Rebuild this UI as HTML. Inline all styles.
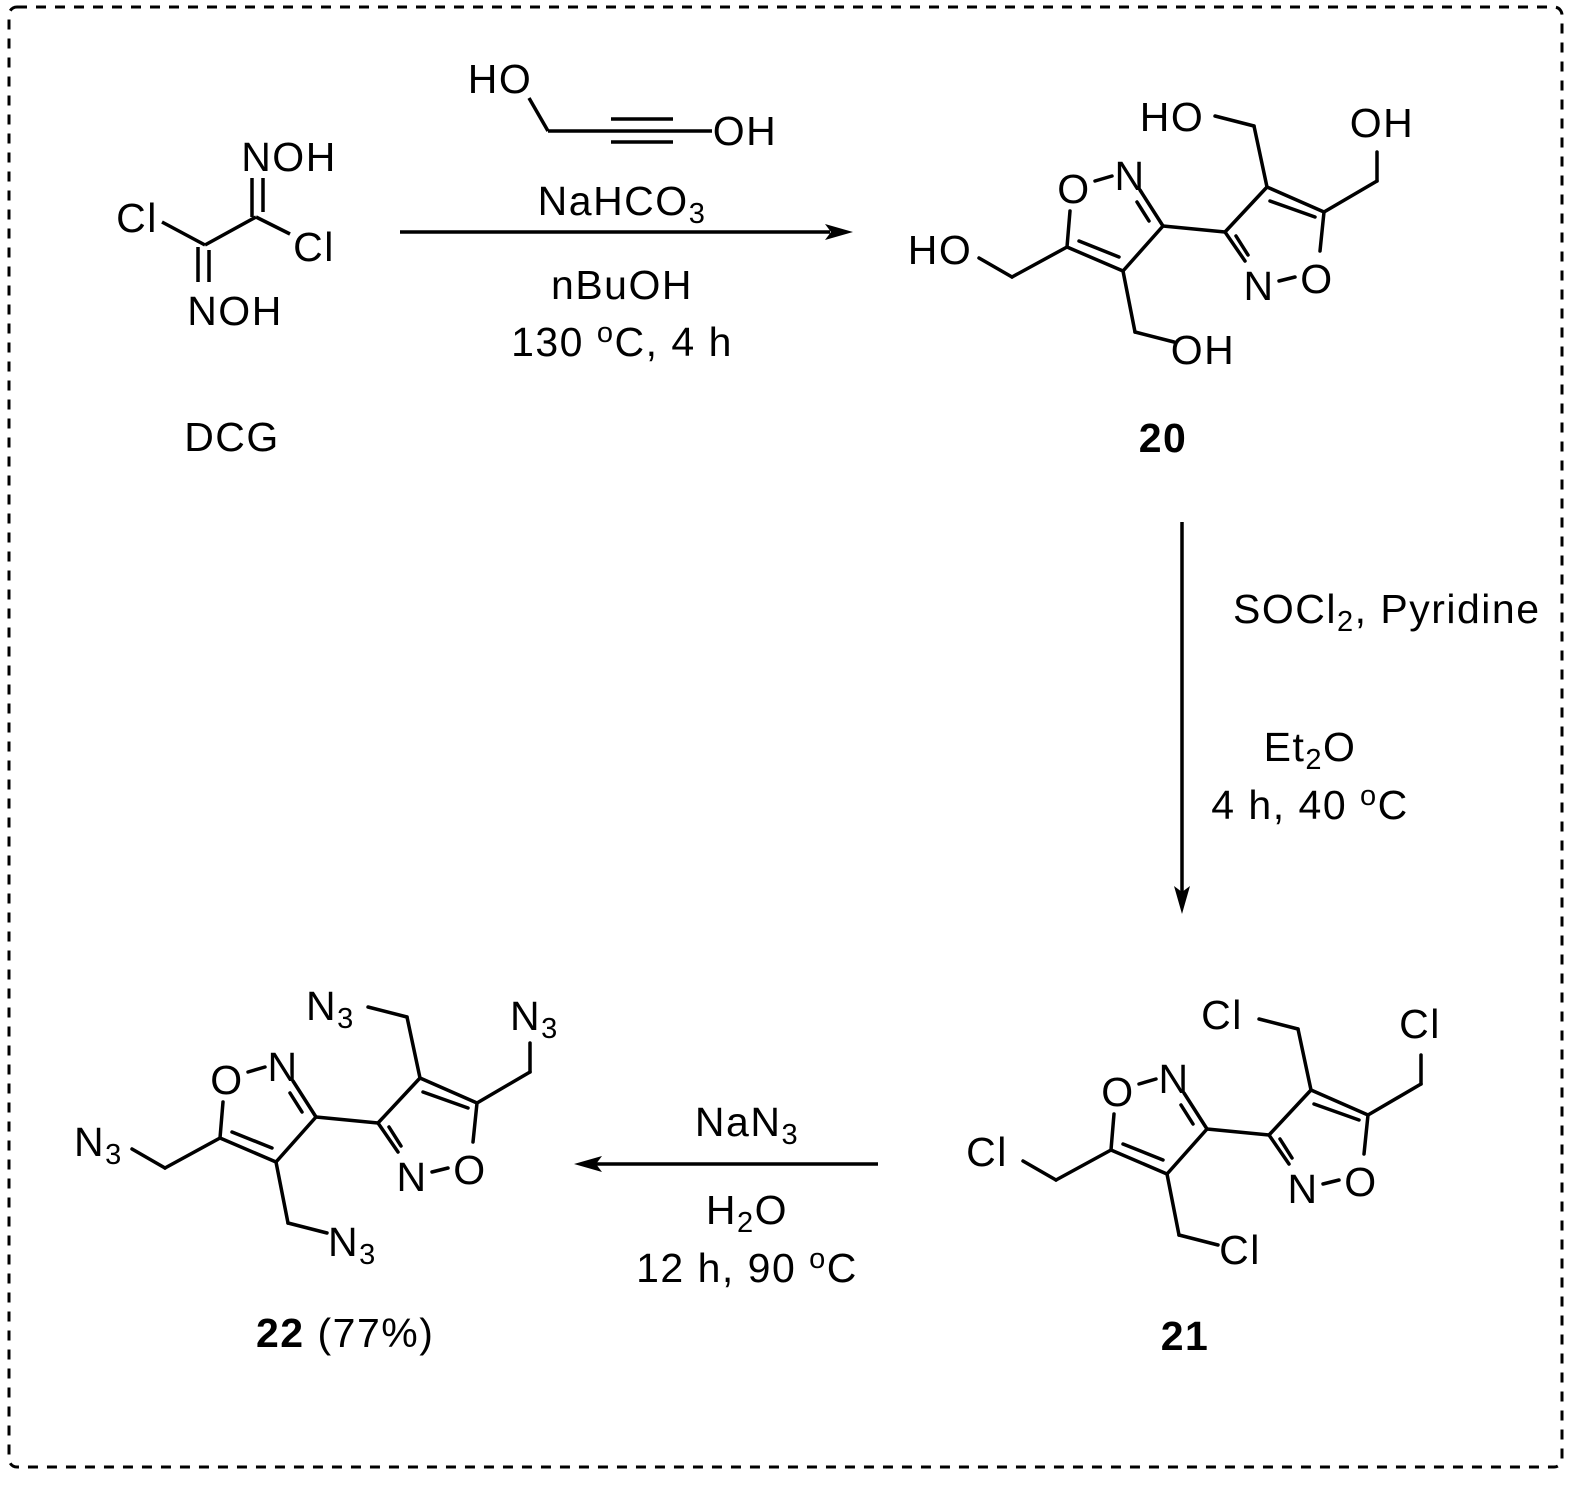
<!DOCTYPE html>
<html><head><meta charset="utf-8"><style>
html,body{margin:0;padding:0;background:#fff;}
svg{display:block;}
text{font-family:"Liberation Sans",Arial,sans-serif;fill:#000;letter-spacing:1.5px;}
</style></head><body>
<svg width="1580" height="1488" viewBox="0 0 1580 1488" xmlns="http://www.w3.org/2000/svg">
<defs>
<g id="sk" stroke="#000" stroke-width="3.5" fill="none" stroke-linecap="round">
  <line x1="248" y1="1072" x2="265" y2="1067"/>
  <line x1="223" y1="1102" x2="220" y2="1138"/>
  <line x1="220" y1="1138" x2="276" y2="1162"/>
  <line x1="232" y1="1132" x2="272" y2="1148"/>
  <line x1="276" y1="1162" x2="316" y2="1117"/>
  <line x1="293" y1="1081" x2="316" y2="1117"/>
  <line x1="290" y1="1093" x2="302" y2="1112"/>
  <line x1="316" y1="1117" x2="378" y2="1123"/>
  <line x1="378" y1="1123" x2="420" y2="1078"/>
  <line x1="420" y1="1078" x2="477" y2="1103"/>
  <line x1="423" y1="1092" x2="468" y2="1108"/>
  <line x1="477" y1="1103" x2="473" y2="1142"/>
  <line x1="432" y1="1172" x2="448" y2="1168"/>
  <line x1="378" y1="1123" x2="398" y2="1152"/>
  <line x1="389" y1="1127" x2="401" y2="1146"/>
  <line x1="420" y1="1078" x2="407" y2="1017"/>
  <line x1="407" y1="1017" x2="368" y2="1007"/>
  <line x1="477" y1="1103" x2="530" y2="1072"/>
  <line x1="530" y1="1072" x2="530" y2="1043"/>
  <line x1="220" y1="1138" x2="165" y2="1168"/>
  <line x1="165" y1="1168" x2="132" y2="1149"/>
  <line x1="276" y1="1162" x2="288" y2="1223"/>
  <line x1="288" y1="1223" x2="327" y2="1233"/>
</g>
<g id="ring" font-size="41" text-anchor="middle" dominant-baseline="central">
  <text x="227" y="1080">O</text>
  <text x="283" y="1067">N</text>
  <text x="412" y="1177">N</text>
  <text x="470" y="1170">O</text>
</g>
</defs>

<rect x="9" y="7" width="1553" height="1460" rx="8" fill="none" stroke="#000" stroke-width="3" stroke-dasharray="10 9"/>

<!-- DCG -->
<g stroke="#000" stroke-width="3.5" fill="none">
  <line x1="162" y1="222" x2="205" y2="245"/>
  <line x1="205" y1="245" x2="256" y2="217"/>
  <line x1="256" y1="217" x2="290" y2="234"/>
  <line x1="252" y1="178" x2="252" y2="217"/>
  <line x1="263" y1="178" x2="263" y2="212"/>
  <line x1="198" y1="247" x2="198" y2="282"/>
  <line x1="209" y1="250" x2="209" y2="282"/>
</g>
<g font-size="41" text-anchor="middle" dominant-baseline="central">
  <text x="137" y="218">Cl</text>
  <text x="314" y="247">Cl</text>
  <text x="289" y="157">NOH</text>
  <text x="235" y="311">NOH</text>
  <text x="232" y="437">DCG</text>
</g>

<!-- butynediol -->
<g stroke="#000" stroke-width="3.5" fill="none">
  <line x1="529" y1="98" x2="548" y2="131"/>
  <line x1="548" y1="131" x2="712" y2="131"/>
  <line x1="611" y1="119" x2="673" y2="119"/>
  <line x1="611" y1="142" x2="673" y2="142"/>
</g>
<g font-size="41" text-anchor="middle" dominant-baseline="central">
  <text x="500" y="79">HO</text>
  <text x="745" y="131">OH</text>
</g>

<!-- arrow 1 -->
<line x1="400" y1="232" x2="830" y2="232" stroke="#000" stroke-width="3.5"/>
<polygon points="853,232 825,224 831,232 825,240" fill="#000"/>
<g font-size="41" text-anchor="middle">
  <text x="622" y="215">NaHCO<tspan font-size="29" dy="8">3</tspan></text>
  <text x="622" y="299">nBuOH</text>
  <text x="622" y="356">130 <tspan font-size="29" dy="-14">o</tspan><tspan dy="14">C, 4 h</tspan></text>
</g>

<!-- compound 20 -->
<g transform="translate(847,-891)"><use href="#sk"/><use href="#ring"/></g>
<g font-size="41" text-anchor="middle" dominant-baseline="central">
  <text x="1172" y="117">HO</text>
  <text x="1382" y="123">OH</text>
  <text x="940" y="250">HO</text>
  <text x="1203" y="350">OH</text>
</g>
<text x="1163" y="452" font-size="41" font-weight="bold" text-anchor="middle">20</text>

<!-- arrow 2 -->
<line x1="1182" y1="522" x2="1182" y2="895" stroke="#000" stroke-width="3.5"/>
<polygon points="1182,914 1174,886 1182,892 1190,886" fill="#000"/>
<g font-size="41">
  <text x="1233" y="623">SOCl<tspan font-size="29" dy="8">2</tspan><tspan dy="-8">, Pyridine</tspan></text>
  <text x="1310" y="761" text-anchor="middle">Et<tspan font-size="29" dy="8">2</tspan><tspan dy="-8">O</tspan></text>
  <text x="1310" y="819" text-anchor="middle">4 h, 40 <tspan font-size="29" dy="-14">o</tspan><tspan dy="14">C</tspan></text>
</g>

<!-- compound 21 -->
<g transform="translate(891,12)"><use href="#sk"/><use href="#ring"/></g>
<g font-size="41" text-anchor="middle" dominant-baseline="central">
  <text x="1222" y="1015">Cl</text>
  <text x="1420" y="1024">Cl</text>
  <text x="987" y="1152">Cl</text>
  <text x="1240" y="1250">Cl</text>
</g>
<text x="1185" y="1350" font-size="41" font-weight="bold" text-anchor="middle">21</text>

<!-- arrow 3 -->
<line x1="878" y1="1164" x2="595" y2="1164" stroke="#000" stroke-width="3.5"/>
<polygon points="574,1164 602,1156 596,1164 602,1172" fill="#000"/>
<g font-size="41" text-anchor="middle">
  <text x="747" y="1136">NaN<tspan font-size="29" dy="8">3</tspan></text>
  <text x="747" y="1224">H<tspan font-size="29" dy="8">2</tspan><tspan dy="-8">O</tspan></text>
  <text x="747" y="1282">12 h, 90 <tspan font-size="29" dy="-14">o</tspan><tspan dy="14">C</tspan></text>
</g>

<!-- compound 22 -->
<use href="#sk"/><use href="#ring"/>
<g font-size="41">
  <text x="306" y="1020">N<tspan font-size="29" dy="8">3</tspan></text>
  <text x="510" y="1030">N<tspan font-size="29" dy="8">3</tspan></text>
  <text x="74" y="1156">N<tspan font-size="29" dy="8">3</tspan></text>
  <text x="328" y="1256">N<tspan font-size="29" dy="8">3</tspan></text>
</g>
<text x="256" y="1347" font-size="41"><tspan font-weight="bold">22</tspan> (77%)</text>
</svg>
</body></html>
